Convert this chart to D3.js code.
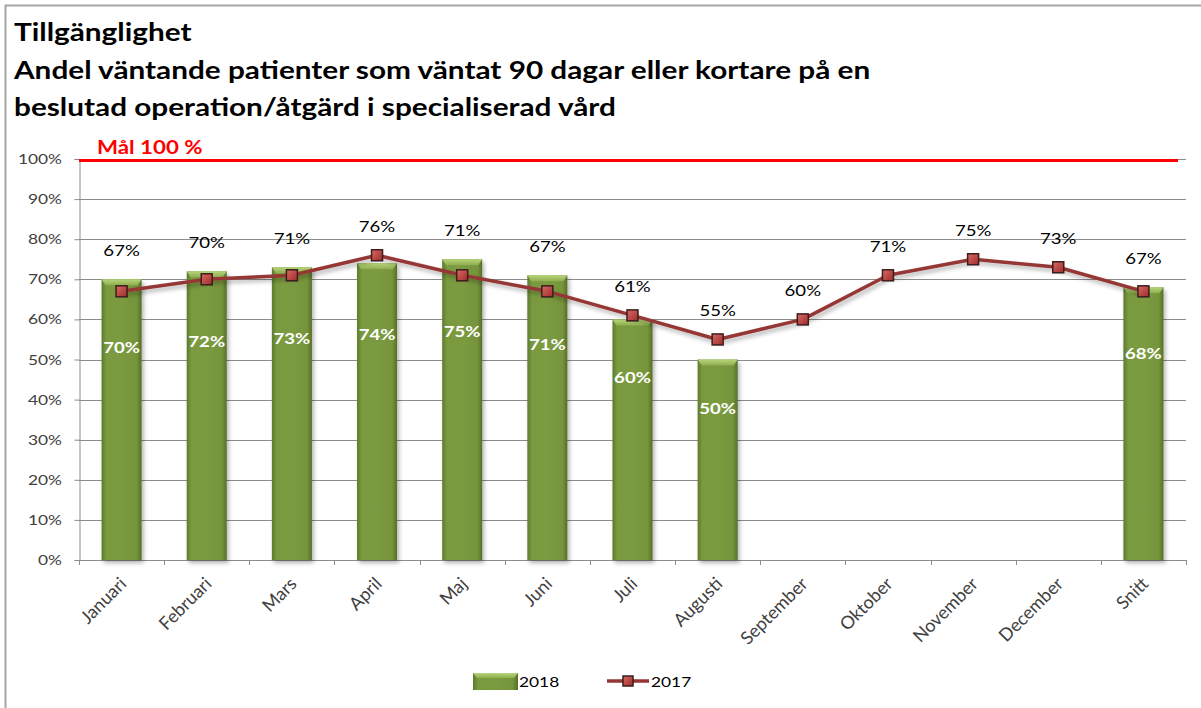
<!DOCTYPE html>
<html lang="sv">
<head>
  <meta charset="UTF-8">
  <title>Tillgänglighet</title>
  <script src="https://d3js.org/d3.v7.min.js"></script>
  <style>
    body { margin: 0; background: #fff; font-family: Lato, "Liberation Sans", sans-serif; }
    svg text { font-family: Lato, "Liberation Sans", sans-serif; }
  </style>
</head>
<body>
  <svg id="chart"></svg>
  <script>
    // data
    const categories = ["Januari", "Februari", "Mars", "April", "Maj", "Juni", "Juli", "Augusti",
                        "September", "Oktober", "November", "December", "Snitt"];
    const values2018 = [70, 72, 73, 74, 75, 71, 60, 50, null, null, null, null, 68];
    const values2017 = [67, 70, 71, 76, 71, 67, 61, 55, 60, 71, 75, 73, 67];
    const yTicks = [0, 10, 20, 30, 40, 50, 60, 70, 80, 90, 100];
    const goal = 100;
    const titleLines = ["Tillgänglighet",
                        "Andel väntande patienter som väntat 90 dagar eller kortare på en",
                        "beslutad operation/åtgärd i specialiserad vård"];

    const W = 1201, H = 708;
    const SX = 1.24; // the picture's text is a bit wide, stretch horizontally
    const plot = { left: 79, right: 1186, top: 159, bottom: 560 };

    const svg = d3.select("#chart").attr("width", W).attr("height", H);

    const defs = svg.append("defs");
    const barGrad = defs.append("linearGradient").attr("id", "barGrad")
      .attr("x1", 0).attr("x2", 1).attr("y1", 0).attr("y2", 0);
    [[0, "#5d7a2c"], [0.12, "#7a9a3f"], [0.5, "#7b9b41"], [0.88, "#75943b"], [1, "#556f26"]]
      .forEach(([o, c]) => barGrad.append("stop").attr("offset", o).attr("stop-color", c));
    const capGrad = defs.append("linearGradient").attr("id", "capGrad")
      .attr("x1", 0).attr("x2", 0).attr("y1", 0).attr("y2", 1);
    [[0, "#b7d47a"], [1, "#8fae4f"]]
      .forEach(([o, c]) => capGrad.append("stop").attr("offset", o).attr("stop-color", c));
    const mkGrad = defs.append("linearGradient").attr("id", "mkGrad")
      .attr("x1", 0).attr("x2", 1).attr("y1", 0).attr("y2", 1);
    [[0, "#d86a66"], [1, "#a02c2a"]]
      .forEach(([o, c]) => mkGrad.append("stop").attr("offset", o).attr("stop-color", c));
    const shadow = defs.append("filter").attr("id", "shadow")
      .attr("x", "-10%").attr("y", "-20%").attr("width", "130%").attr("height", "160%");
    shadow.append("feDropShadow").attr("dx", 2).attr("dy", 3).attr("stdDeviation", 2)
      .attr("flood-color", "#000").attr("flood-opacity", 0.3);

    const wide = (x, y) => `translate(${x},${y}) scale(${SX},1)`;

    // outer frame
    svg.append("rect").attr("x", 5.5).attr("y", 5.5).attr("width", W).attr("height", H)
      .attr("fill", "none").attr("stroke", "#a6a6a6").attr("stroke-width", 2);

    // title
    svg.append("g").selectAll("text").data(titleLines).join("text")
      .attr("transform", (d, i) => wide(14, 41 + i * 37.5))
      .attr("font-size", 24).attr("font-weight", "bold").attr("fill", "#000")
      .text(d => d);

    const x = d3.scaleBand().domain(categories).range([plot.left, plot.right]).paddingInner(0.53).paddingOuter(0.265);
    const xb = d3.scaleBand().domain(categories).range([plot.left, plot.right]);
    const y = d3.scaleLinear().domain([0, 100]).range([plot.bottom, plot.top]);

    // gridlines
    svg.append("g").selectAll("line").data(yTicks.filter(d => d > 0)).join("line")
      .attr("x1", plot.left).attr("x2", plot.right)
      .attr("y1", d => Math.round(y(d)) + 0.5).attr("y2", d => Math.round(y(d)) + 0.5)
      .attr("stroke", "#8c8c8c").attr("stroke-width", 1);

    // y axis
    const yAxis = svg.append("g").attr("transform", `translate(${plot.left + 0.5},0)`)
      .call(d3.axisLeft(y).tickValues(yTicks).tickFormat("").tickSize(5));
    yAxis.select(".domain").attr("stroke", "#8c8c8c");
    yAxis.selectAll(".tick line").attr("stroke", "#8c8c8c");
    svg.append("g").selectAll("text").data(yTicks).join("text")
      .attr("transform", d => wide(62, y(d) + 5))
      .attr("text-anchor", "end").attr("font-size", 14).attr("fill", "#404040")
      .text(d => d + "%");

    // x axis with ticks at category boundaries
    const xAxisG = svg.append("g");
    xAxisG.append("line").attr("x1", plot.left).attr("x2", plot.right)
      .attr("y1", plot.bottom + 0.5).attr("y2", plot.bottom + 0.5).attr("stroke", "#8c8c8c");
    xAxisG.selectAll(".bt").data(categories.concat(["end"])).join("line").attr("class", "bt")
      .attr("x1", (d, i) => Math.round(i < categories.length ? xb(d) : plot.right) + 0.5)
      .attr("x2", (d, i) => Math.round(i < categories.length ? xb(d) : plot.right) + 0.5)
      .attr("y1", plot.bottom).attr("y2", plot.bottom + 5).attr("stroke", "#8c8c8c");
    xAxisG.selectAll("text").data(categories).join("text")
      .attr("transform", d => `translate(${xb(d) + xb.bandwidth() / 2 + 6},${plot.bottom + 25}) rotate(-45)`)
      .attr("text-anchor", "end").attr("font-size", 18).attr("fill", "#404040")
      .text(d => d);

    // bars 2018
    const bars = categories.map((c, i) => ({ c, v: values2018[i] })).filter(d => d.v != null);
    const barG = svg.append("g");
    barG.selectAll(".bar").data(bars).join("rect").attr("class", "bar")
      .attr("x", d => x(d.c)).attr("width", x.bandwidth())
      .attr("y", d => y(d.v)).attr("height", d => y(0) - y(d.v))
      .attr("fill", "url(#barGrad)").attr("filter", "url(#shadow)");
    barG.selectAll(".cap").data(bars).join("path").attr("class", "cap")
      .attr("d", d => {
        const x0 = x(d.c), x1 = x0 + x.bandwidth(), t = y(d.v);
        return `M${x0},${t}L${x1},${t}L${x1 - 4},${t + 6}L${x0 + 4},${t + 6}Z`;
      })
      .attr("fill", "url(#capGrad)");

    // goal line
    svg.append("line").attr("x1", plot.left).attr("x2", plot.right - 8)
      .attr("y1", y(goal) + 1.5).attr("y2", y(goal) + 1.5)
      .attr("stroke", "#ff0000").attr("stroke-width", 3);
    svg.append("text").attr("transform", wide(97, 154))
      .attr("font-size", 18).attr("font-weight", "bold").attr("fill", "#ff0000")
      .text("Mål " + goal + " %");

    // line 2017
    const pts = categories.map((c, i) => ({ c, v: values2017[i], b: values2018[i] }));
    const cx = d => xb(d.c) + xb.bandwidth() / 2;
    svg.append("path").datum(pts)
      .attr("d", d3.line().x(cx).y(d => y(d.v)))
      .attr("fill", "none").attr("stroke", "#953735").attr("stroke-width", 3.5)
      .attr("stroke-linejoin", "round").attr("filter", "url(#shadow)");
    svg.append("g").selectAll("rect").data(pts).join("rect")
      .attr("x", d => cx(d) - 5.5).attr("y", d => y(d.v) - 5.5)
      .attr("width", 11).attr("height", 11)
      .attr("fill", "url(#mkGrad)").attr("stroke", "#3b1e1d").attr("stroke-width", 1.5);

    // labels 2017
    svg.append("g").selectAll("text").data(pts).join("text")
      .attr("transform", d => wide(cx(d), Math.min(y(d.v), d.b != null ? y(d.b) : Infinity) - 23))
      .attr("text-anchor", "middle").attr("font-size", 15).attr("fill", "#000")
      .text(d => d.v + "%");

    // labels 2018
    svg.append("g").selectAll("text").data(bars).join("text")
      .attr("transform", d => wide(x(d.c) + x.bandwidth() / 2, y(d.v * 0.76) + 6))
      .attr("text-anchor", "middle").attr("font-size", 15).attr("font-weight", "bold")
      .attr("fill", "#fff")
      .text(d => d.v + "%");

    // legend
    const lg = svg.append("g");
    lg.append("rect").attr("x", 473).attr("y", 673).attr("width", 45).attr("height", 17)
      .attr("fill", "url(#barGrad)");
    lg.append("path").attr("d", "M473,673L518,673L514,678L477,678Z").attr("fill", "url(#capGrad)");
    lg.append("text").attr("transform", wide(519, 687)).attr("font-size", 14).attr("fill", "#000").text("2018");
    lg.append("line").attr("x1", 607).attr("x2", 649).attr("y1", 681).attr("y2", 681)
      .attr("stroke", "#953735").attr("stroke-width", 3.5);
    lg.append("rect").attr("x", 623).attr("y", 676).attr("width", 10).attr("height", 10)
      .attr("fill", "url(#mkGrad)").attr("stroke", "#3b1e1d").attr("stroke-width", 1.5);
    lg.append("text").attr("transform", wide(651, 687)).attr("font-size", 14).attr("fill", "#000").text("2017");
  </script>
</body>
</html>
